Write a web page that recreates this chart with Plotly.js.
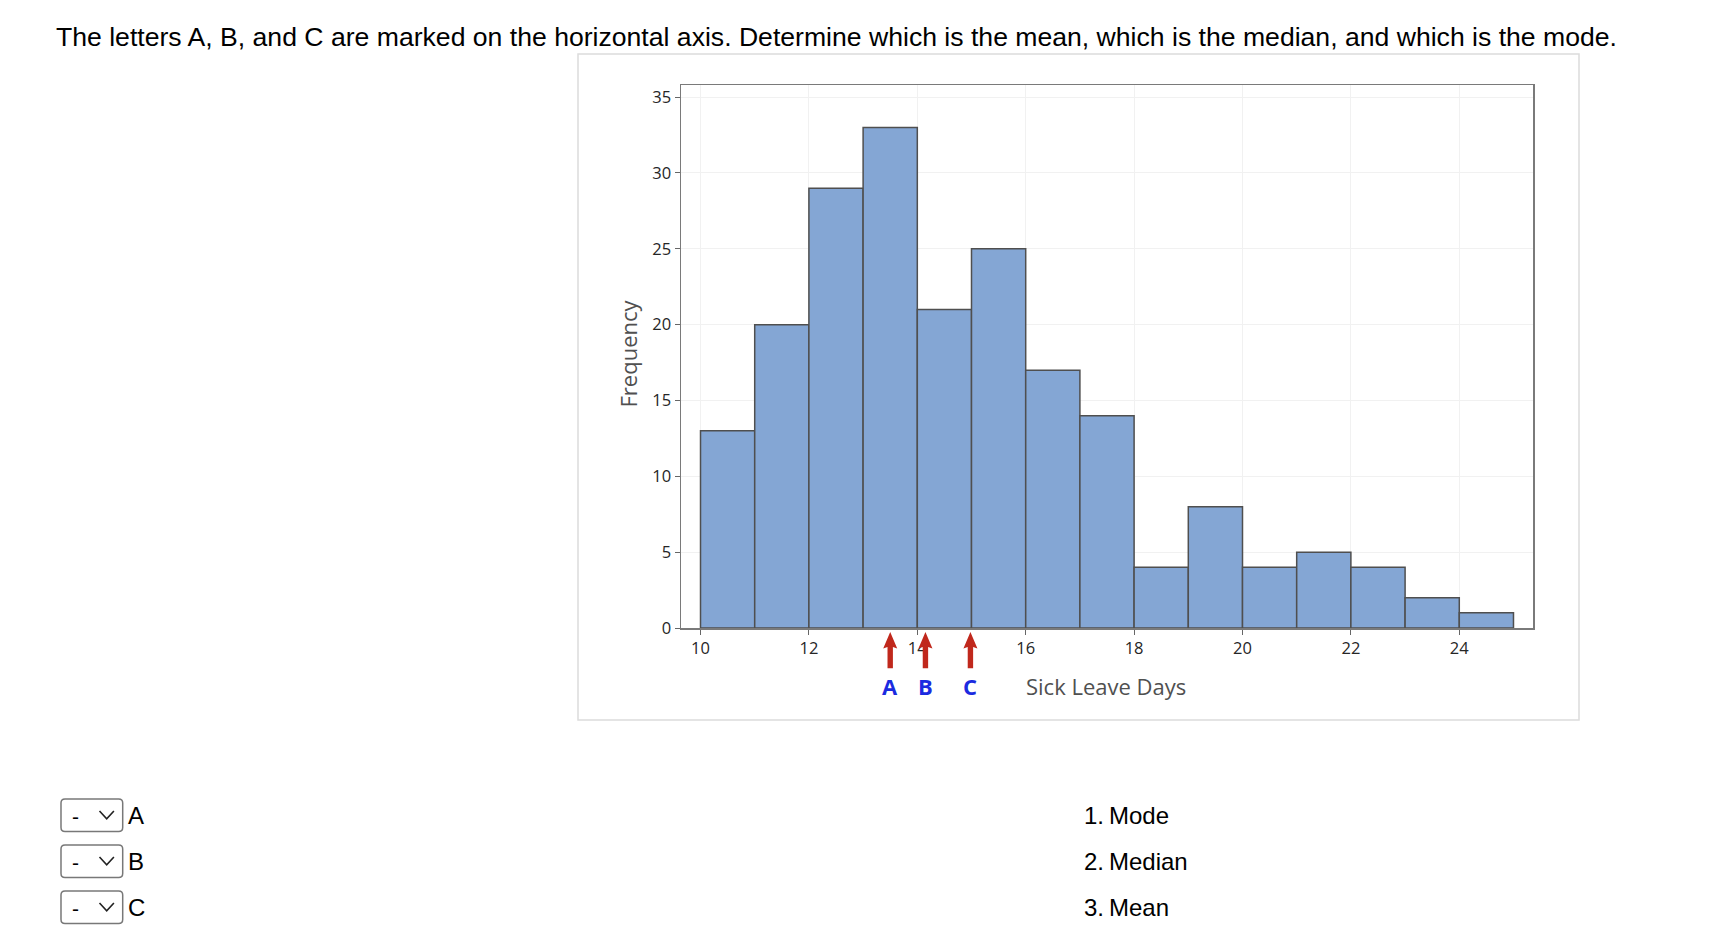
<!DOCTYPE html>
<html><head><meta charset="utf-8">
<script src="https://cdn.plot.ly/plotly-3.0.1.min.js"></script>
<style>html,body{margin:0;padding:0;background:#fff;overflow:hidden}#chart{width:1720px;height:952px}</style>
</head><body><div id="chart"></div>
<script>
const binStarts = [10,11,12,13,14,15,16,17,18,19,20,21,22,23,24];
const frequencies = [13,20,29,33,21,25,17,14,4,8,4,5,4,2,1];
const markerLabels = ['A','B','C'];
const markerValues = [13.5,14.15,14.98];
const xTickVals = [10,12,14,16,18,20,22,24];
const yTickVals = [0,5,10,15,20,25,30,35];
const questionText = 'The letters A, B, and C are marked on the horizontal axis. Determine which is the mean, which is the median, and which is the mode.';
const answerOptions = ['Mode','Median','Mean'];
const xTitle = 'Sick Leave Days';
const yTitle = 'Frequency';

const W=1720, H=952, ML=681, MR=187, MT=85, MB=324;
const PW=W-ML-MR, PH=H-MT-MB;
const px = X => (X-ML)/PW;
const py = Y => (H-MB-Y)/PH;
const P = (X,Y) => px(X).toFixed(5)+','+py(Y).toFixed(5);

const chartFont = 'Open Sans, Noto Sans, sans-serif';
const pageFont = 'Liberation Sans, Arial, sans-serif';

const bars = {
  type:'bar', x: binStarts, y: frequencies, width: 1, offset: 0,
  marker:{color:'#84A6D4', line:{color:'#4f4f4f', width:1.5}},
  hoverinfo:'skip', showlegend:false
};

const shapes = [];
const annotations = [];

// outer chart image border
shapes.push({type:'rect', xref:'paper', yref:'paper', x0:px(578), x1:px(1579), y0:py(54), y1:py(720),
  line:{color:'#dcdcdc', width:1.5}, fillcolor:'rgba(0,0,0,0)', layer:'below'});

// arrows under the axis
markerValues.forEach((v,i)=>{
  shapes.push({type:'path', xref:'x', xsizemode:'pixel', xanchor:v, yref:'paper', ysizemode:'pixel', yanchor:0,
    path:'M0,-4 L7,-20.5 L2.7,-19 L2.7,-40.3 L-2.7,-40.3 L-2.7,-19 L-7,-20.5 Z',
    fillcolor:'#C0281C', line:{width:0}, layer:'above'});
  annotations.push({xref:'x', yref:'paper', x:v, y:py(686), text:'<b>'+markerLabels[i]+'</b>', showarrow:false,
    xanchor:'center', yanchor:'middle', font:{family:chartFont, size:22, color:'#1B2BE0'}});
});

annotations.push({xref:'paper', yref:'paper', x:px(1106), y:py(686), text:xTitle, showarrow:false,
  xanchor:'center', yanchor:'middle', font:{family:chartFont, size:22, color:'#505050'}});
annotations.push({xref:'paper', yref:'paper', x:px(627.5), y:py(354), text:yTitle, showarrow:false, textangle:-90,
  xanchor:'center', yanchor:'middle', font:{family:chartFont, size:22, color:'#505050'}});

// question text
annotations.push({xref:'paper', yref:'paper', x:px(54), y:py(37), text:questionText, showarrow:false,
  xanchor:'left', yanchor:'middle', font:{family:pageFont, size:26.6, color:'#000'}});

// dropdowns + answer list
markerLabels.forEach((lab,i)=>{
  const cy = 815.3 + 46*i;
  const t = cy-16.3, b = cy+16.3, l = 61, r = 122.7, rr = 4;
  const path = 'M'+P(l+rr,t)+' L'+P(r-rr,t)+' Q'+P(r,t)+' '+P(r,t+rr)+' L'+P(r,b-rr)+' Q'+P(r,b)+' '+P(r-rr,b)+
    ' L'+P(l+rr,b)+' Q'+P(l,b)+' '+P(l,b-rr)+' L'+P(l,t+rr)+' Q'+P(l,t)+' '+P(l+rr,t)+' Z';
  shapes.push({type:'path', xref:'paper', yref:'paper', path:path, line:{color:'#787878', width:1.5}, fillcolor:'#fff'});
  shapes.push({type:'path', xref:'paper', yref:'paper', path:'M'+P(99.5,cy-4.3)+' L'+P(106.7,cy+3.5)+' L'+P(113.9,cy-4.3),
    line:{color:'#222', width:1.6}});
  annotations.push({xref:'paper', yref:'paper', x:px(75), y:py(cy+1), text:'-', showarrow:false,
    xanchor:'center', yanchor:'middle', font:{family:pageFont, size:21, color:'#000'}});
  annotations.push({xref:'paper', yref:'paper', x:px(126), y:py(cy), text:lab, showarrow:false,
    xanchor:'left', yanchor:'middle', font:{family:pageFont, size:24, color:'#000'}});
  annotations.push({xref:'paper', yref:'paper', x:px(1082), y:py(cy), text:(i+1)+'.', showarrow:false,
    xanchor:'left', yanchor:'middle', font:{family:pageFont, size:24, color:'#000'}});
  annotations.push({xref:'paper', yref:'paper', x:px(1107), y:py(cy), text:answerOptions[i], showarrow:false,
    xanchor:'left', yanchor:'middle', font:{family:pageFont, size:24, color:'#000'}});
});

const axisCommon = {
  ticks:'outside', ticklen:5, tickwidth:1, tickcolor:'#666',
  showline:true, linecolor:'#7a7a7a', linewidth:1.5, mirror:true,
  showgrid:true, gridcolor:'#f1f1f1', gridwidth:1, zeroline:false,
  tickfont:{family:chartFont, size:16.5, color:'#262626'}, fixedrange:true
};

const layout = {
  width:W, height:H, margin:{l:ML, r:MR, t:MT, b:MB, pad:0},
  paper_bgcolor:'#fff', plot_bgcolor:'#fff', showlegend:false, bargap:0,
  xaxis:Object.assign({}, axisCommon, {range:[9.64,25.36], tickmode:'array', tickvals:xTickVals}),
  yaxis:Object.assign({}, axisCommon, {range:[0,35.8], tickmode:'array', tickvals:yTickVals}),
  shapes:shapes, annotations:annotations
};

Plotly.newPlot('chart', [bars], layout, {staticPlot:true, displayModeBar:false});
</script>
</body></html>
